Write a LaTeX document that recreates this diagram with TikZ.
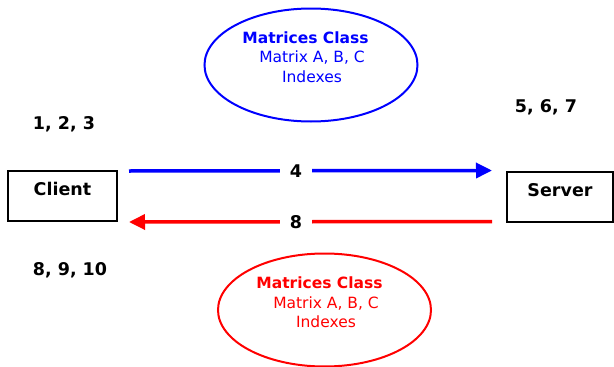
\documentclass[tikz,border=0pt]{standalone}
\usepackage{fontspec}
\setmainfont{DejaVu Sans}
\usetikzlibrary{positioning,arrows.meta,shapes.geometric,calc}

\begin{document}
\begin{tikzpicture}[
    x=1pt, y=-1pt,
    box/.style={rectangle, draw, line width=2pt, minimum width=109pt, inner sep=0pt, text height=24.5pt, text depth=25.5pt, font=\fontsize{17.5}{20}\selectfont\bfseries},
    obj/.style={ellipse, draw, line width=2pt, minimum width=213pt, minimum height=113pt, inner sep=0pt},
    objtxt/.style={align=center, inner sep=0pt, font=\fontsize{15.5}{19.5}\selectfont},
    num/.style={font=\fontsize{17.5}{20}\selectfont\bfseries, inner sep=0pt},
    msg/.style={num, fill=white, inner xsep=10pt, inner ysep=2pt},
    arr/.style={-{Triangle[length=16pt,width=15pt]}, line width=3.5pt}
]
\useasboundingbox (0,0) rectangle (614,367);

% Client and server
\node[box] (client) at (62.5,196) {Client};
\node[box, minimum width=106pt] (server) at (560,196.5) {Server};

% Step numbers
\node[num] (steps1) at (64,124) {1, 2, 3};
\node[num] (steps2) at (546,107) {5, 6, 7};
\node[num] (steps3) at (70,270) {8, 9, 10};

% Messages
\draw[arr, blue] ([xshift=11pt,yshift=-1pt]client.north east) -- node[msg, text=black, pos=0.46] {4} ([xshift=-14pt]server.north west);
\draw[arr, red] ([xshift=-14pt,yshift=1pt]server.south west) -- node[msg, text=black, pos=0.54] {8} ([xshift=11pt]client.south east);

% Matrices objects
\node[obj, draw=blue] (blueobj) at (311,65) {};
\node[objtxt, text=blue] (bluetxt) at ([xshift=1pt,yshift=8pt]blueobj.center) {\textbf{Matrices Class}\kern13pt\\Matrix A, B, C\\Indexes};

\node[obj, draw=red] (redobj) at (324.5,310) {};
\node[objtxt, text=red] (redtxt) at ([xshift=1.5pt,yshift=7.5pt]redobj.center) {\textbf{Matrices Class}\kern13pt\\Matrix A, B, C\\Indexes};

\end{tikzpicture}
\end{document}
